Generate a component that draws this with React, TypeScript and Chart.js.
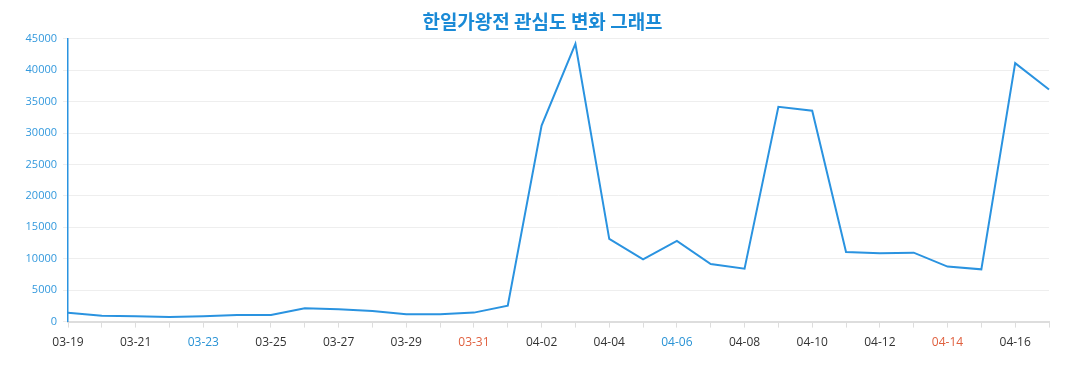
import React, { useEffect, useRef } from "react";
import { Chart, registerables } from "chart.js";

Chart.register(...registerables);

const categories = [
  "03-19", "03-20", "03-21", "03-22", "03-23", "03-24", "03-25", "03-26", "03-27", "03-28",
  "03-29", "03-30", "03-31", "04-01", "04-02", "04-03", "04-04", "04-05", "04-06", "04-07",
  "04-08", "04-09", "04-10", "04-11", "04-12", "04-13", "04-14", "04-15", "04-16", "04-17",
];

const interest = [
  1400, 950, 840, 750, 850, 1060, 1050, 2120, 1960, 1700,
  1160, 1160, 1430, 2540, 31200, 44200, 13150, 9910, 12830, 9170,
  8430, 34190, 33550, 11080, 10860, 10970, 8750, 8320, 41130, 36940,
];

const blueLabels = ["03-23", "04-06"];
const redLabels = ["03-31", "04-14"];

const yMax = 45000;
const yStep = 5000;

const titleText = "한일가왕전 관심도 변화 그래프";

const titleShift = {
  id: "titleShift",
  afterLayout(chart: any) {
    const t = chart.titleBlock;
    if (t) t.left += 28;
  },
};

export default function App() {
  const ref = useRef<HTMLCanvasElement | null>(null);

  useEffect(() => {
    if (!ref.current) return;
    const chart = new Chart(ref.current, {
      type: "line",
      data: {
        labels: categories,
        datasets: [
          {
            data: interest,
            borderColor: "#2a93e0",
            backgroundColor: "#2a93e0",
            borderWidth: 2,
            pointRadius: 0,
            tension: 0,
            fill: false,
          },
        ],
      },
      plugins: [titleShift],
      options: {
        animation: false,
        responsive: true,
        maintainAspectRatio: false,
        layout: { padding: { left: 0, right: 20, top: 0, bottom: 24 } },
        plugins: {
          legend: { display: false },
          tooltip: { enabled: false },
          title: {
            display: true,
            text: titleText,
            color: "#1a8ad6",
            font: { family: "'Noto Sans CJK KR', 'Noto Sans', sans-serif", size: 19, weight: "bold" },
            padding: { top: 2, bottom: 6 },
          },
        },
        scales: {
          x: {
            offset: false,
            grid: {
              drawOnChartArea: false,
              drawTicks: true,
              tickLength: 6,
              color: "#dddddd",
            },
            border: { color: "#dddddd", width: 2 },
            ticks: {
              autoSkip: false,
              maxRotation: 0,
              padding: 8,
              font: { family: "'Open Sans', sans-serif", size: 12 },
              color: (ctx: any) => {
                const lab = categories[ctx.index];
                if (blueLabels.includes(lab)) return "#2a93d5";
                if (redLabels.includes(lab)) return "#e0603f";
                return "#333333";
              },
              callback: (_v: any, i: number) => (i % 2 === 0 ? categories[i] : ""),
            },
          },
          y: {
            min: 0,
            max: yMax,
            afterFit: (axis: any) => {
              axis.width = 60;
            },
            grid: {
              color: "#eeeeee",
              tickLength: 5,
            },
            border: { color: "#2a93e0", width: 1.5 },
            ticks: {
              stepSize: yStep,
              padding: 6,
              color: "#3399dd",
              font: { family: "'Open Sans', sans-serif", size: 11 },
              callback: (v: any) => String(v),
            },
          },
        },
      },
    });
    return () => chart.destroy();
  }, []);

  return (
    <div style={{ width: 1061, height: 374, position: "relative" }}>
      <canvas ref={ref} />
    </div>
  );
}
